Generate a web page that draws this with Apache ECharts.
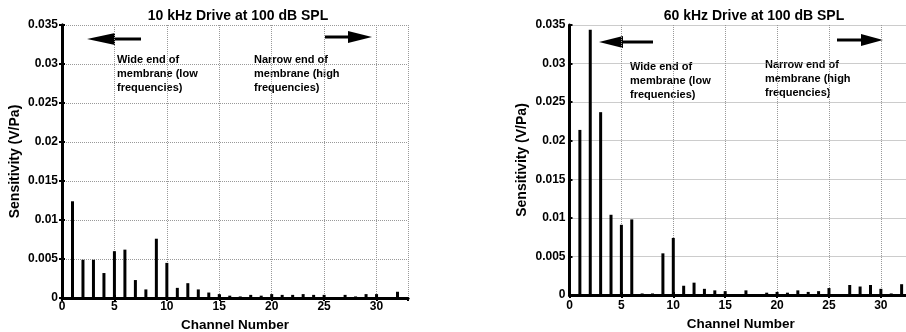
<!DOCTYPE html>
<html>
<head>
<meta charset="utf-8">
<script src="https://cdn.jsdelivr.net/npm/echarts@6/dist/echarts.min.js"></script>
<style>
  html, body { margin: 0; padding: 0; background: #fff; }
  #chart { width: 906px; height: 332px; }
</style>
</head>
<body>
<div id="chart"></div>
<script>
// channel numbers and measured sensitivity (V/Pa)
const channels = [1, 2, 3, 4, 5, 6, 7, 8, 9, 10, 11, 12, 13, 14, 15, 16,
  17, 18, 19, 20, 21, 22, 23, 24, 25, 26, 27, 28, 29, 30, 31, 32];
const drive10k = [0.0124, 0.0049, 0.0049, 0.0032, 0.0060, 0.0062, 0.0023, 0.0011,
  0.0076, 0.0045, 0.0013, 0.0019, 0.0011, 0.0007, 0.0005, 0.0003,
  0.0002, 0.0004, 0.0003, 0.0005, 0.0004, 0.0004, 0.0005, 0.0004,
  0.0004, 0, 0.0004, 0.0002, 0.0005, 0.0005, 0, 0.0008];
const drive60k = [0.0214, 0.0344, 0.0237, 0.0104, 0.0091, 0.0098, 0.0002, 0.0002,
  0.0054, 0.0074, 0.0012, 0.0016, 0.0008, 0.0006, 0.0005, 0,
  0.0006, 0, 0.0003, 0.0004, 0.0003, 0.0006, 0.0004, 0.0005,
  0.0009, 0, 0.0013, 0.0011, 0.0013, 0.0008, 0.0002, 0.0014];
const titles = ['10 kHz Drive at 100 dB SPL', '60 kHz Drive at 100 dB SPL'];
const yTickLabels = ['0', '0.005', '0.01', '0.015', '0.02', '0.025', '0.03', '0.035'];

const font = 'Liberation Sans, Arial, sans-serif';
const dotted = { show: true, lineStyle: { color: '#999', type: [1, 1], width: 1 } };

// v6 would otherwise squeeze the grids to keep names inside the canvas
const grids = [
  { left: 62, top: 25, right: 498, bottom: 34, outerBoundsMode: 'none', containLabel: false },
  { left: 569.5, top: 25, right: -6, bottom: 37, outerBoundsMode: 'none', containLabel: false }
];
const labelMargin = [3, 5];
const xNameGap = [17, 20];

const xAxes = [];
const yAxes = [];
const series = [];

[drive10k, drive60k].forEach((vals, g) => {
  xAxes.push({
    gridIndex: g, type: 'value', min: 0, max: 33, interval: 5,
    name: 'Channel Number', nameLocation: 'middle', nameGap: xNameGap[g],
    nameTextStyle: { color: '#000', fontSize: 13.5, fontWeight: 'bold', fontFamily: font },
    axisLine: { lineStyle: { color: '#000', width: 3 } },
    axisTick: { inside: true, length: 3, lineStyle: { color: '#000', width: 2 } },
    axisLabel: { color: '#000', fontSize: 12, fontWeight: 'bold', fontFamily: font,
      margin: labelMargin[g], showMaxLabel: false },
    splitLine: dotted
  });
  xAxes.push({
    gridIndex: g, type: 'value', min: 0, max: 33, interval: 5, position: 'top',
    axisLine: { lineStyle: { color: '#000', width: 2.5 } },
    axisTick: { inside: true, length: 3, lineStyle: { color: '#000', width: 2 } },
    axisLabel: { show: false }, splitLine: { show: false }
  });
  yAxes.push({
    gridIndex: g, type: 'value', min: 0, max: 0.035, interval: 0.005,
    name: 'Sensitivity (V/Pa)', nameLocation: 'middle', nameGap: 40,
    nameTextStyle: { color: '#000', fontSize: 14, fontWeight: 'bold', fontFamily: font },
    axisLine: { show: true, lineStyle: { color: '#000', width: 3 } },
    axisTick: { show: true, inside: true, length: 3, lineStyle: { color: '#000', width: 2 } },
    axisLabel: { color: '#000', fontSize: 12, fontWeight: 'bold', fontFamily: font, margin: 4,
      formatter: v => yTickLabels[Math.round(v / 0.005)] },
    splitLine: dotted
  });
  yAxes.push({
    gridIndex: g, type: 'value', min: 0, max: 0.035, interval: 0.005, position: 'right',
    axisLine: { show: g === 0, lineStyle: { color: '#000', width: 3 } },
    axisTick: { show: g === 0, inside: true, length: 3, lineStyle: { color: '#000', width: 2 } },
    axisLabel: { show: false }, splitLine: { show: false }
  });
  series.push({
    type: 'bar', xAxisIndex: g * 2, yAxisIndex: g * 2,
    data: channels.map((c, i) => [c, vals[i]]),
    barWidth: 3, itemStyle: { color: '#000' }, silent: true
  });
});

// annotation arrows and texts (pixel placement)
function arrow(x1, x2, y, headLen) {
  const dir = x2 > x1 ? 1 : -1;
  const base = x2 - dir * headLen;
  return [
    { type: 'line', shape: { x1: x1, y1: y, x2: base, y2: y }, style: { stroke: '#000', lineWidth: 3 } },
    { type: 'polygon', shape: { points: [[x2, y], [base, y - 6], [base, y + 6]] }, style: { fill: '#000' } }
  ];
}
function note(x, y, text) {
  return { type: 'text', left: x, top: y,
    style: { text: text, fill: '#000', font: 'bold 11px ' + font, lineHeight: 14 } };
}

const graphic = [
  ...arrow(141, 87, 39, 28),
  ...arrow(325, 372, 37, 24),
  note(117, 53, 'Wide end of\nmembrane (low\nfrequencies)'),
  note(254, 53, 'Narrow end of\nmembrane (high\nfrequencies)'),
  ...arrow(653, 599, 42, 24),
  ...arrow(837, 883, 40, 22),
  note(630, 60, 'Wide end of\nmembrane (low\nfrequencies)'),
  note(765, 58, 'Narrow end of\nmembrane (high\nfrequencies)')
];

const chart = echarts.init(document.getElementById('chart'));
chart.setOption({
  backgroundColor: '#fff',
  animation: false,
  title: [
    { text: titles[0], left: 233, top: 4, textAlign: 'center',
      textStyle: { color: '#000', fontSize: 14, fontWeight: 'bold', fontFamily: font } },
    { text: titles[1], left: 749, top: 4, textAlign: 'center',
      textStyle: { color: '#000', fontSize: 14, fontWeight: 'bold', fontFamily: font } }
  ],
  grid: grids,
  xAxis: xAxes,
  yAxis: yAxes,
  series: series,
  graphic: graphic
});
</script>
</body>
</html>
